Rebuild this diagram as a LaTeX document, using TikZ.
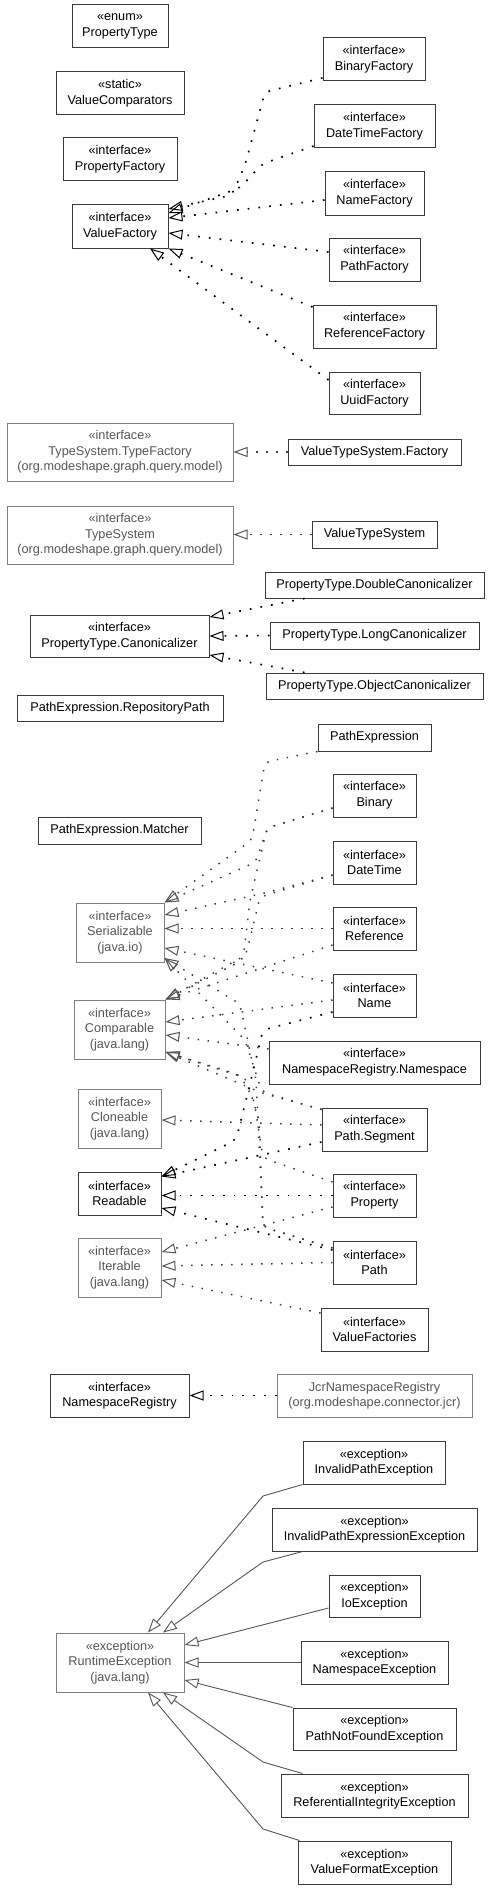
\documentclass[tikz,border=0pt]{standalone}
\usepackage{fontspec}
\setmainfont{Liberation Sans}
\usetikzlibrary{arrows.meta}
\definecolor{bline}{HTML}{3A3A3A}
\definecolor{gline}{HTML}{808080}
\definecolor{gtext}{HTML}{555555}
\definecolor{gdot}{HTML}{3C3C3C}
\definecolor{eline}{HTML}{555555}
\tikzset{
 cls/.style={draw=bline, line width=1pt, fill=white, align=center, inner sep=0pt, font=\fontsize{12.7}{15.6}\selectfont},
 gcls/.style={cls, draw=gline, text=gtext},
 dep/.style={draw=black, line width=1.7pt, dash pattern=on 1.7pt off 9.1pt, rounded corners=6pt, -{Triangle[open, length=14pt, width=10pt, line width=1pt]}},
 gdep/.style={draw=gdot, line width=1.5pt, dash pattern=on 1.5pt off 8.5pt, rounded corners=6pt, -{Triangle[open, length=14pt, width=10pt, line width=1pt, color=gtext]}},
 ext/.style={draw=eline, line width=0.9pt, -{Triangle[open, length=14pt, width=10pt]}},
}
\begin{document}
\begin{tikzpicture}[x=1pt, y=-1pt]
\useasboundingbox (0,0) rectangle (491,1889);
\fill[white] (0,0) rectangle (491,1889);
% top group
\node[cls, minimum width=96, minimum height=43] (pt) at (120,26.5) {«enum»\\PropertyType};
\node[cls, minimum width=128, minimum height=43] (vc) at (120,93.5) {«static»\\ValueComparators};
\node[cls, minimum width=114, minimum height=43] (pfy) at (120,159.5) {«interface»\\PropertyFactory};
\node[cls, minimum width=96, minimum height=43] (vf) at (120,226.5) {«interface»\\ValueFactory};
\node[cls, minimum width=102, minimum height=43] (bf) at (374,59.5) {«interface»\\BinaryFactory};
\node[cls, minimum width=121, minimum height=43] (dtf) at (374.5,126.5) {«interface»\\DateTimeFactory};
\node[cls, minimum width=99, minimum height=43] (nf) at (374.5,193.5) {«interface»\\NameFactory};
\node[cls, minimum width=91, minimum height=43] (pf) at (374.5,259.5) {«interface»\\PathFactory};
\node[cls, minimum width=123, minimum height=43] (rf) at (374.5,326.5) {«interface»\\ReferenceFactory};
\node[cls, minimum width=91, minimum height=42] (uf) at (374.5,393) {«interface»\\UuidFactory};
% type system
\node[gcls, minimum width=226, minimum height=58] (tf) at (120,452) {«interface»\\TypeSystem.TypeFactory\\(org.modeshape.graph.query.model)};
\node[cls, minimum width=173, minimum height=26] (vtsf) at (374.5,452) {ValueTypeSystem.Factory};
\node[gcls, minimum width=226, minimum height=58] (ts) at (120,535) {«interface»\\TypeSystem\\(org.modeshape.graph.query.model)};
\node[cls, minimum width=125, minimum height=27] (vts) at (374.5,534.5) {ValueTypeSystem};
% canonicalizers
\node[cls, minimum width=219, minimum height=26] (dc) at (374.5,585) {PropertyType.DoubleCanonicalizer};
\node[cls, minimum width=179, minimum height=42] (canon) at (119.5,636) {«interface»\\PropertyType.Canonicalizer};
\node[cls, minimum width=209, minimum height=27] (lc) at (374.5,635.5) {PropertyType.LongCanonicalizer};
\node[cls, minimum width=217, minimum height=26] (oc) at (374.5,686) {PropertyType.ObjectCanonicalizer};
\node[cls, minimum width=206, minimum height=26] (rp) at (120,708) {PathExpression.RepositoryPath};
% middle
\node[cls, minimum width=113, minimum height=27] (pe) at (374.5,737.5) {PathExpression};
\node[cls, minimum width=83, minimum height=43] (bin) at (374.5,795.5) {«interface»\\Binary};
\node[cls, minimum width=163, minimum height=27] (mat) at (119.5,830.5) {PathExpression.Matcher};
\node[cls, minimum width=83, minimum height=43] (dt) at (374.5,862.5) {«interface»\\DateTime};
\node[gcls, minimum width=88, minimum height=59] (ser) at (120,932.5) {«interface»\\Serializable\\(java.io)};
\node[cls, minimum width=83, minimum height=43] (ref) at (374.5,928.5) {«interface»\\Reference};
\node[cls, minimum width=83, minimum height=43] (name) at (374.5,995.5) {«interface»\\Name};
\node[gcls, minimum width=91, minimum height=59] (comp) at (119.5,1029.5) {«interface»\\Comparable\\(java.lang)};
\node[cls, minimum width=211, minimum height=43] (nrn) at (374.5,1062.5) {«interface»\\NamespaceRegistry.Namespace};
\node[gcls, minimum width=83, minimum height=59] (clone) at (119.5,1118.5) {«interface»\\Cloneable\\(java.lang)};
\node[cls, minimum width=105, minimum height=43] (ps) at (374.5,1129.5) {«interface»\\Path.Segment};
\node[cls, minimum width=83, minimum height=43] (read) at (119.5,1193.5) {«interface»\\Readable};
\node[cls, minimum width=83, minimum height=43] (prop) at (374.5,1195.5) {«interface»\\Property};
\node[gcls, minimum width=83, minimum height=59] (iter) at (119.5,1267.5) {«interface»\\Iterable\\(java.lang)};
\node[cls, minimum width=83, minimum height=43] (path) at (374.5,1262.5) {«interface»\\Path};
\node[cls, minimum width=107, minimum height=43] (vfs) at (374.5,1329.5) {«interface»\\ValueFactories};
\node[cls, minimum width=139, minimum height=43] (nr) at (119.5,1395.5) {«interface»\\NamespaceRegistry};
\node[gcls, minimum width=195, minimum height=43] (jcr) at (374.5,1395.5) {JcrNamespaceRegistry\\(org.modeshape.connector.jcr)};
% exceptions
\node[cls, minimum width=142, minimum height=43] (ipe) at (374,1462.5) {«exception»\\InvalidPathException};
\node[cls, minimum width=205, minimum height=43] (ipee) at (374.5,1529.5) {«exception»\\InvalidPathExpressionException};
\node[cls, minimum width=91, minimum height=42] (io) at (374.5,1596) {«exception»\\IoException};
\node[gcls, minimum width=128, minimum height=59] (re) at (120,1662.5) {«exception»\\RuntimeException\\(java.lang)};
\node[cls, minimum width=147, minimum height=43] (ne) at (374.5,1662.5) {«exception»\\NamespaceException};
\node[cls, minimum width=163, minimum height=42] (pnf) at (374.5,1729) {«exception»\\PathNotFoundException};
\node[cls, minimum width=187, minimum height=43] (ri) at (374.5,1795.5) {«exception»\\ReferentialIntegrityException};
\node[cls, minimum width=153, minimum height=43] (vfe) at (374.5,1862.5) {«exception»\\ValueFormatException};

% ValueFactory edges
\draw[dep] ([yshift=-18.5]bf.west) -- (265,92) -- (245,165) -- (232,195) -- ([yshift=17.5]vf.east);
\draw[dep] ([yshift=-19.5]dtf.west) -- (262,164) -- (240,188) -- ([yshift=13.5]vf.east);
\draw[dep] ([yshift=-6.5]nf.west) -- ([yshift=8.5]vf.east);
\draw[dep] ([yshift=7.5]pf.west) -- ([yshift=-6.5]vf.east);
\draw[dep] ([yshift=19.5]rf.west) -- (vf.south east);
\draw[dep] ([yshift=13]uf.west) -- ([xshift=30]vf.south);
% type system
\draw[gdep] (vtsf.west) -- (tf.east);
\draw[gdep] (vts.west) -- (vts.west -| ts.east);
% canonicalizers
\draw[dep] ([xshift=40]dc.south west) -- ([yshift=19]canon.east);
\draw[dep] (lc.west) -- (canon.east);
\draw[dep] ([xshift=39]oc.north west) -- ([yshift=-19]canon.east);
% Serializable
\draw[gdep] (pe.south west) -- (265,762) -- (252,840) -- (ser.north east);
\draw[gdep] ([yshift=-12.5]bin.west) -- (267,828) -- (256,862) -- (ser.north east);
\draw[gdep] ([yshift=-12.5]dt.west) -- (265,893) -- ([yshift=17.5]ser.east);
\draw[gdep] (ref.west) -- (ref.west -| ser.east);
\draw[gdep] ([yshift=12.5]name.west) -- ([yshift=-15.5]ser.east);
\draw[gdep] ([yshift=-2]ps.north west) -- (262,1092) -- (245,1040) -- ([yshift=-25.5]ser.east);
\draw[gdep] ([yshift=14.5]path.west) -- (263,1227) -- (256,1080) -- (240,1004) -- ([yshift=-25.5]ser.east);
% Comparable
\draw[gdep] ([yshift=-12.5]bin.west) -- (267,828) -- (250,900) -- (243,960) -- (comp.north east);
\draw[gdep] ([yshift=-12.5]dt.west) -- (260,897) -- (246,955) -- (comp.north east);
\draw[gdep] ([yshift=-16.5]ref.west) -- (comp.north east);
\draw[gdep] ([yshift=-4.5]name.west) -- ([yshift=7.5]comp.east);
\draw[gdep] ([yshift=13.5]nrn.west) -- ([yshift=-5.5]comp.east);
\draw[gdep] ([yshift=-2]ps.north west) -- (262,1093) -- ([yshift=-22.5]comp.east);
\draw[gdep] ([yshift=13.5]prop.west) -- (263,1158) -- (254,1100) -- (240,1075) -- ([yshift=-22.5]comp.east);
\draw[gdep] ([yshift=14.5]path.west) -- (263,1227) -- (259,1120) -- (246,1078) -- ([yshift=-22.5]comp.east);
% Cloneable
\draw[gdep] ([yshift=4.5]ps.west) -- ([yshift=-1.5]clone.east);
% Readable
\draw[dep] ([yshift=-12.5]ps.west) -- ([yshift=-5]read.north east);
\draw[dep] ([yshift=-16.5]name.west) -- (263,1030) -- (246,1100) -- (236,1140) -- ([yshift=-5]read.north east);
\draw[dep] (prop.west) -- (prop.west -| read.east);
\draw[dep] ([yshift=12.5]path.west) -- ([yshift=-14.5]read.east);
% Iterable
\draw[gdep] ([yshift=-11.5]prop.west) -- ([yshift=15.5]iter.east);
\draw[gdep] (path.west) -- ([yshift=1.5]iter.east);
\draw[gdep] ([yshift=16.5]vfs.west) -- ([yshift=-12.5]iter.east);
% NamespaceRegistry
\draw[dep] (jcr.west) -- (nr.east);
% exceptions
\draw[ext] (ipe.south west) -- (263,1496) -- ([xshift=28]re.north);
\draw[ext] ([xshift=31]ipee.south west) -- (263,1562) -- ([xshift=43]re.north);
\draw[ext] ([yshift=-12]io.west) -- ([yshift=17.5]re.east);
\draw[ext] (ne.west) -- (re.east);
\draw[ext] (pnf.north west) -- ([yshift=-17.5]re.east);
\draw[ext] ([xshift=22]ri.north west) -- (263,1762) -- ([xshift=43]re.south);
\draw[ext] ([xshift=2]vfe.north west) -- (263,1829) -- ([xshift=28]re.south);
\end{tikzpicture}
\end{document}
